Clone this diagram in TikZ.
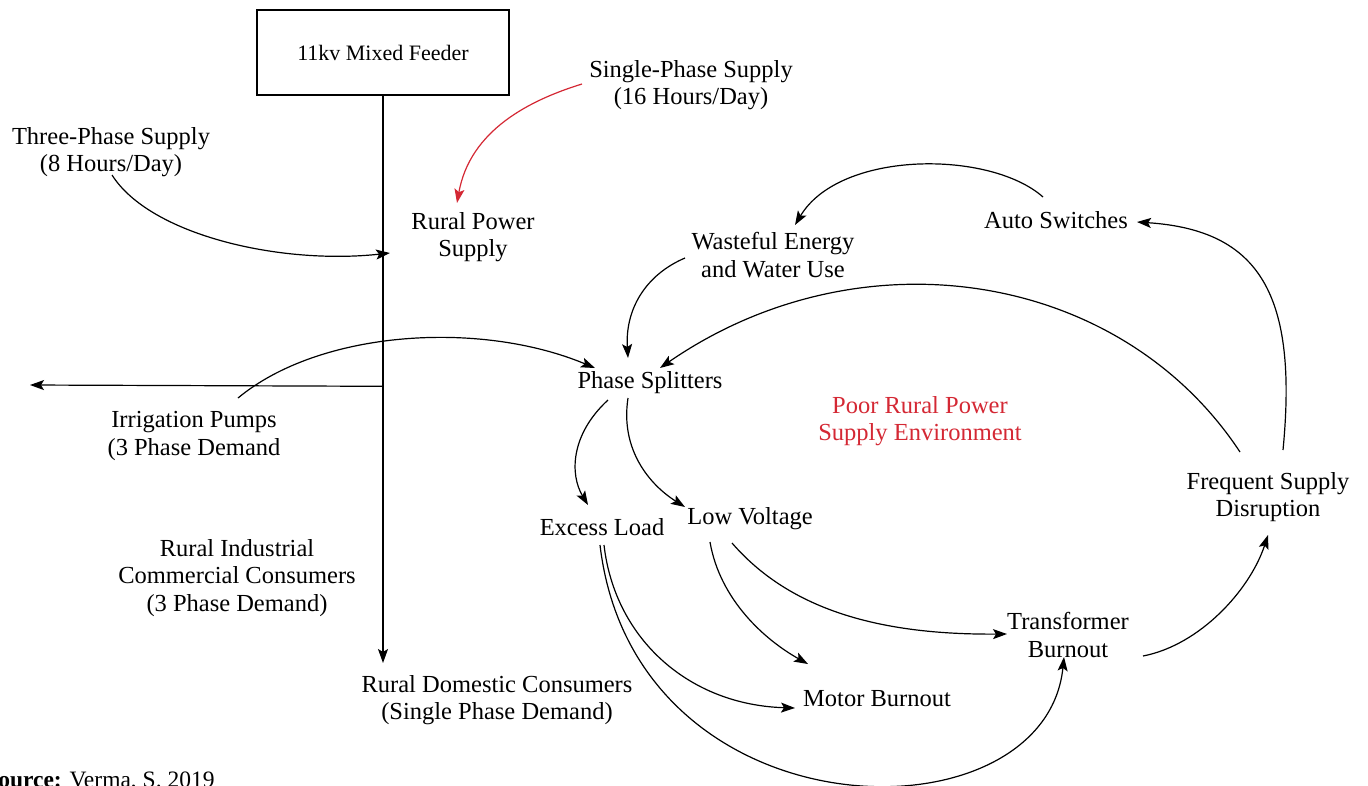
\documentclass[tikz,border=0pt]{standalone}
\usepackage{fontspec}
\setmainfont{Liberation Serif}
\usetikzlibrary{arrows.meta,calc}
\definecolor{loopred}{RGB}{212,40,52}
\begin{document}
\begin{tikzpicture}[x=1pt,y=-1pt,
  lbl/.style={align=center,inner sep=0pt,font=\fontsize{24.5}{27.5}\selectfont},
  arr/.style={line width=1.2pt,-{Stealth[length=14pt,width=10pt,inset=3pt]}}]
\useasboundingbox (0,0) rectangle (1368,785);

% feeder and supply labels
\node[draw,line width=2.6pt,minimum width=252pt,minimum height=85pt,inner sep=0pt,
      font=\fontsize{22}{26}\selectfont] (feeder) at (383,52.5) {11kv Mixed Feeder};
\node[lbl] (tps) at (111,152) {Three-Phase Supply\\(8 Hours/Day)};
\node[lbl] (sps) at (691,85) {Single-Phase Supply\\(16 Hours/Day)};
\node[lbl] (rps) at (473,237) {Rural Power\\Supply};
\node[lbl] (irr) at (194,436) {Irrigation Pumps\\(3 Phase Demand};
\node[lbl] (ric) at (237,578) {Rural Industrial\\Commercial Consumers\\(3 Phase Demand)};
\node[lbl] (dom) at (497,700) {Rural Domestic Consumers\\(Single Phase Demand)};

% feedback loop
\node[lbl] (ps) at (650,383) {Phase Splitters};
\node[lbl] (wew) at (773,255) {Wasteful Energy\\and Water Use};
\node[lbl] (asw) at (1056,220) {Auto Switches};
\node[lbl] (fsd) at (1268,497) {Frequent Supply\\Disruption};
\node[lbl,text=loopred] (poor) at (920,421) {Poor Rural Power\\Supply Environment};
\node[lbl] (el) at (602,527) {Excess Load};
\node[lbl] (lv) at (750,519) {Low Voltage};
\node[lbl] (tb) at (1068,635) {Transformer\\Burnout};
\node[lbl] (mb) at (877,699) {Motor Burnout};

\node[anchor=base west,inner sep=0pt,font=\fontsize{23.5}{27}\selectfont] (src) at (-15,787)
  {\textbf{Source:} Verma, S. 2019};

% distribution trunk
\coordinate (tap) at ($(feeder.south)+(0,290)$);
\coordinate (westend) at (30,385);
\draw[arr] (feeder.south) -- ($(dom)+(-114,-37)$);
\draw[arr] (tap) -- (westend);
\draw[arr] ($(tps)+(1,23)$) .. controls (150,235) and (280,265) .. ($(rps)+(-83,16)$);
\draw[arr,loopred] ($(sps)+(-109,-1)$) .. controls (530,100) and (470,130) .. ($(rps)+(-16,-34)$);

% causal links
\draw[arr] ($(irr)+(44,-38)$) .. controls (320,330) and (480,320) .. ($(ps)+(-55,-15)$);
\draw[arr] ($(wew)+(-88,3)$) .. controls (645,275) and (625,310) .. ($(ps)+(-22,-25)$);
\draw[arr] ($(asw)+(-13,-23)$) .. controls (990,150) and (840,150) .. ($(wew)+(22,-30)$);
\draw[arr] ($(fsd)+(15,-47)$) .. controls (1298,295) and (1260,230) .. ($(asw)+(81,2)$);
\draw[arr] ($(fsd)+(-28,-45)$) .. controls (1120,270) and (860,230) .. ($(ps)+(10,-15)$);
\draw[arr] ($(ps)+(-42,17)$) .. controls (570,435) and (570,475) .. ($(el)+(-14,-22)$);
\draw[arr] ($(ps)+(-22,15)$) .. controls (620,450) and (650,485) .. ($(lv)+(-65,-12)$);
\draw[arr] ($(lv)+(-40,23)$) .. controls (720,600) and (765,640) .. ($(mb)+(-69,-35)$);
\draw[arr] ($(lv)+(-18,24)$) .. controls (790,610) and (880,635) .. ($(tb)+(-61,-1)$);
\draw[arr] ($(el)+(2,18)$) .. controls (615,640) and (690,705) .. ($(mb)+(-82,9)$);
\draw[arr] ($(el)+(-2,18)$) .. controls (635,840) and (1045,845) .. ($(tb)+(-4,22)$);
\draw[arr] ($(tb)+(75,21)$) .. controls (1200,645) and (1250,590) .. ($(fsd)+(0,38)$);
\end{tikzpicture}
\end{document}
